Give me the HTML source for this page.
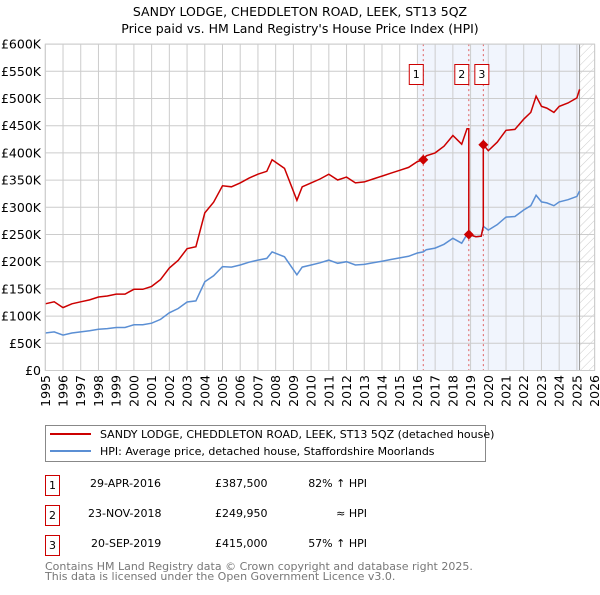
<!DOCTYPE html>
<html><head><meta charset="utf-8"><style>
body{margin:0;background:#fff;font-family:"Liberation Sans","DejaVu Sans",sans-serif;}
svg text{font-family:"DejaVu Sans","Liberation Sans",sans-serif;}
</style></head><body>
<svg id="c" width="600" height="590" xmlns="http://www.w3.org/2000/svg">
<text x="300" y="16" text-anchor="middle" font-size="12.5">SANDY LODGE, CHEDDLETON ROAD, LEEK, ST13 5QZ</text>
<text x="300" y="33" text-anchor="middle" font-size="12.5">Price paid vs. HM Land Registry's House Price Index (HPI)</text>
<g id="plot"></g>
<g>
<rect x="45.5" y="425.5" width="440" height="36" fill="#fff" stroke="#888"/>
<line x1="50" y1="434" x2="91" y2="434" stroke="#cc0000" stroke-width="2"/>
<text x="100" y="438" font-size="11">SANDY LODGE, CHEDDLETON ROAD, LEEK, ST13 5QZ (detached house)</text>
<line x1="50" y1="451" x2="91" y2="451" stroke="#5b8fd4" stroke-width="2"/>
<text x="100" y="455" font-size="11">HPI: Average price, detached house, Staffordshire Moorlands</text>
</g>
<g font-size="11">
<rect x="45.5" y="475.5" width="14" height="20" fill="#fff" stroke="#cc0000"/><text x="52.5" y="489" text-anchor="middle">1</text>
<text x="90" y="487">29-APR-2016</text><text x="215" y="487">£387,500</text><text x="367" y="487" text-anchor="end">82% ↑ HPI</text>
<rect x="45.5" y="505.5" width="14" height="20" fill="#fff" stroke="#cc0000"/><text x="52.5" y="519" text-anchor="middle">2</text>
<text x="88" y="517">23-NOV-2018</text><text x="215" y="517">£249,950</text><text x="367" y="517" text-anchor="end">≈ HPI</text>
<rect x="45.5" y="535.5" width="14" height="20" fill="#fff" stroke="#cc0000"/><text x="52.5" y="549" text-anchor="middle">3</text>
<text x="91" y="547">20-SEP-2019</text><text x="215" y="547">£415,000</text><text x="367" y="547" text-anchor="end">57% ↑ HPI</text>
</g>
<text x="45" y="570" font-size="11" fill="#777">Contains HM Land Registry data © Crown copyright and database right 2025.</text>
<text x="45" y="580" font-size="11" fill="#777">This data is licensed under the Open Government Licence v3.0.</text>
</svg>
<script>
const years=[1995,1995.5,1996,1996.5,1997,1997.5,1998,1998.5,1999,1999.5,2000,2000.5,2001,2001.5,2002,2002.5,2003,2003.5,2004,2004.5,2005,2005.5,2006,2006.5,2007,2007.5,2007.8,2008.5,2009.2,2009.5,2010,2010.5,2011,2011.5,2012,2012.5,2013,2013.5,2014,2014.5,2015,2015.5,2016,2016.33,2016.5,2017,2017.5,2018,2018.5,2018.8,2018.9,2019.3,2019.6,2019.72,2020,2020.5,2021,2021.5,2022,2022.4,2022.7,2023,2023.3,2023.7,2024,2024.5,2025,2025.15];
const hpi=[69,71,65,69,71,73,76,77,79,79,84,84,87,94,106,114,126,128,163,174,191,190,194,199,203,206,218,209,176,190,194,198,203,197,200,194,195,198,201,204,207,210,216,218,222,225,232,243,234,250,250,246,247,265,258,268,282,283,295,303,322,310,308,303,310,314,320,330];
const saleYears=[2016.33,2018.9,2019.72];
const salePrices=[387.5,249.95,415];
const saleLabels=["1","2","3"];
const yTicks=[0,50,100,150,200,250,300,350,400,450,500,550,600];
const xTicks=[];for(let y=1995;y<=2026;y++)xTicks.push(y);
const X=t=>45.3+(t-1995)*17.72, Y=v=>370.5-v/50*27.2;
const NS="http://www.w3.org/2000/svg";
const g=document.getElementById('plot');
function mk(tag,at){const e=document.createElementNS(NS,tag);for(const k in at)e.setAttribute(k,at[k]);g.appendChild(e);return e;}
let e=mk('rect',{x:X(2016),y:Y(600),width:X(2025.15)-X(2016),height:Y(0)-Y(600),fill:'#eef3fc',opacity:0.8});


const defs=document.createElementNS(NS,'defs');defs.innerHTML='<pattern id="h" width="6" height="6" patternUnits="userSpaceOnUse" patternTransform="rotate(45)"><line x1="0" y1="0" x2="0" y2="6" stroke="#ccc" stroke-width="1"/></pattern>';g.appendChild(defs);
e=mk('rect',{x:X(2025.15),y:Y(600),width:X(2026)-X(2025.15),height:Y(0)-Y(600),fill:'url(#h)'});


yTicks.forEach(v=>{
 let l=mk('line',{x1:X(1995),x2:X(2026),y1:Y(v),y2:Y(v),stroke:'#ccc','stroke-width':1});
 
 
 let t=mk('text',{x:41,y:Y(v)+4.5,'text-anchor':'end','font-size':12.5});t.textContent=v===0?'£0':'£'+v+'K';
 
 
});
xTicks.forEach(y=>{
 let l=mk('line',{x1:X(y),x2:X(y),y1:Y(600),y2:Y(0),stroke:'#ccc','stroke-width':1});
 
 
 const tx=X(y)+4.5,ty=375;
 let t=mk('text',{x:tx,y:ty,'text-anchor':'end','font-size':12.5,transform:`rotate(-90 ${tx} ${ty})`});t.textContent=y;
 
 
});
e=mk('line',{x1:X(2025.15),x2:X(2025.15),y1:Y(600),y2:Y(0),stroke:'#999','stroke-width':1});


saleYears.forEach((s,i)=>{
 let l=mk('line',{x1:X(s),x2:X(s),y1:Y(600),y2:Y(0),stroke:'#e06060','stroke-width':1,'stroke-dasharray':'2,3'});
 
 
});
function hAt(t){for(let i=1;i<years.length;i++)if(years[i]>=t){const f=(t-years[i-1])/(years[i]-years[i-1]);return hpi[i-1]+f*(hpi[i]-hpi[i-1]);}return hpi[hpi.length-1];}
const ratios=salePrices.map((p,i)=>p/hAt(saleYears[i]));
let bp='',rp='';let prevR=null;
years.forEach((t,i)=>{
 bp+=(i?'L':'M')+X(t).toFixed(1)+','+Y(hpi[i]).toFixed(1);
 let k=0;for(let j=0;j<saleYears.length;j++)if(t>=saleYears[j]-1e-9)k=j;
 const r=ratios[k];
 if(prevR!==null&&r!==prevR)rp+='L'+X(t).toFixed(1)+','+Y(hpi[i]*prevR).toFixed(1);
 rp+=(i?'L':'M')+X(t).toFixed(1)+','+Y(hpi[i]*r).toFixed(1);prevR=r;
});
e=mk('path',{d:bp,fill:'none',stroke:'#5b8fd4','stroke-width':1.5});


e=mk('path',{d:rp,fill:'none',stroke:'#cc0000','stroke-width':1.5});


saleYears.forEach((s,i)=>{
 const cx=X(s),cy=Y(salePrices[i]);
 let p=mk('path',{d:`M${cx},${cy-5}L${cx+5},${cy}L${cx},${cy+5}L${cx-5},${cy}Z`,fill:'#cc0000'});
 
 
 let r=mk('rect',{x:i===2?cx-8.5:cx-14,y:64.5,width:14,height:20,fill:'#fff',stroke:'#cc0000'});
 
 
 let t=mk('text',{x:(i===2?cx-8.5:cx-14)+7,y:78,'text-anchor':'middle','font-size':11});t.textContent=saleLabels[i];
 
 
});
e=mk('rect',{x:X(1995),y:Y(600),width:X(2026)-X(1995),height:Y(0)-Y(600),fill:'none',stroke:'#ccc'});


</script>
</body></html>
